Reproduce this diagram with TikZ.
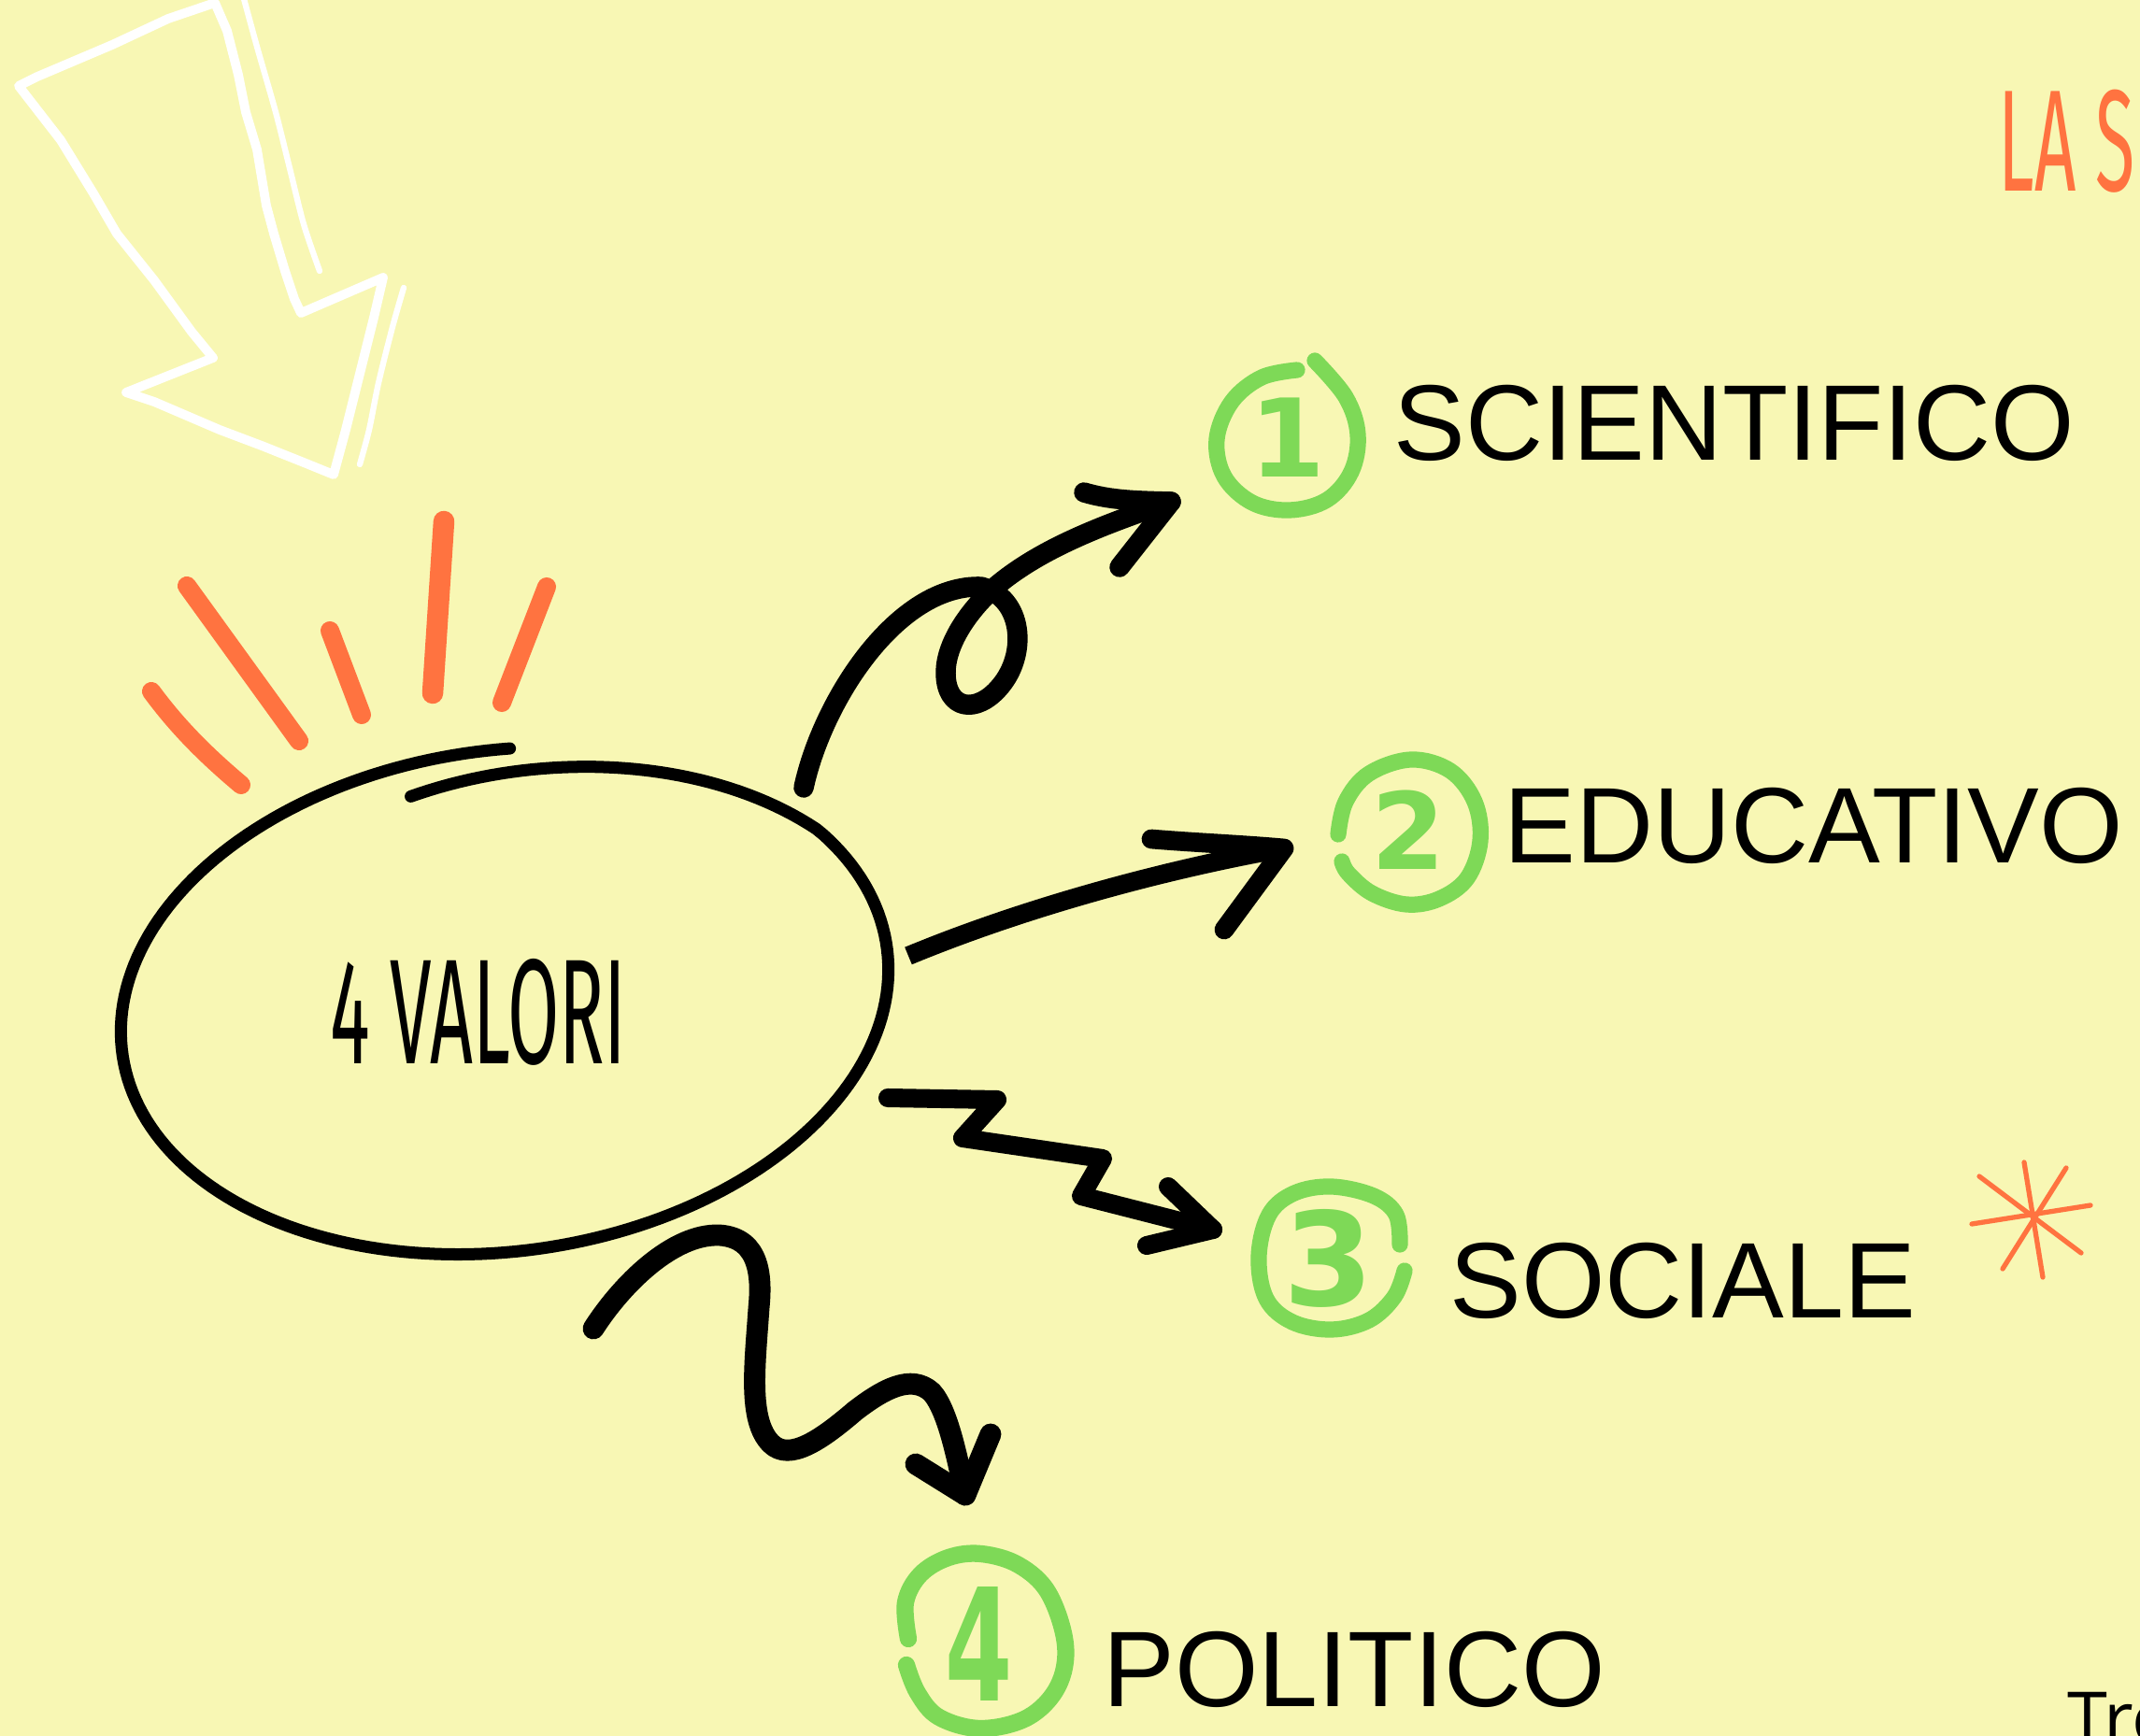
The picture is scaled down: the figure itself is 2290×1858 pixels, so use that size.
\documentclass[tikz,border=0pt]{standalone}
\usepackage{fontspec}
\setmainfont{Liberation Sans}
\newfontfamily\handfont{Fira Sans}[FakeStretch=0.5]
\newfontfamily\digfont{DejaVu Sans}
\newfontfamily\digfontn{DejaVu Sans}[FakeStretch=0.62]
\newfontfamily\smallfont{Open Sans}
\definecolor{bg}{RGB}{248,247,180}
\definecolor{org}{RGB}{255,115,64}
\definecolor{grn}{RGB}{126,217,87}
\begin{document}
\begin{tikzpicture}[x=0.01cm,y=-0.01cm,
  blk/.style={draw=black, line width=6.1pt, line cap=round, line join=round},
  ray/.style={draw=org, line width=5.7pt, line cap=round},
  ring/.style={draw=grn, line width=4.9pt, line cap=round, line join=round},
  wht/.style={draw=white, line width=2.8pt, line cap=round, line join=round},
  lbl/.style={anchor=west, inner sep=0pt, font=\fontsize{32.7}{39}\selectfont},
  dig/.style={inner sep=0pt, text=grn}]
\useasboundingbox (0,0) rectangle (2290,1858);
\fill[bg] (0,0) rectangle (2290,1858);

% white arrow
\draw[wht] (230,3) -- (243,33) -- (255,80) -- (263,120) -- (275,160) -- (285,220) -- (293,250) -- (305,290) -- (315,320) -- (322,335) -- (410,297) -- (400,340) -- (385,400) -- (370,460) -- (357,508) -- (330,497) -- (280,477) -- (235,460) -- (165,430) -- (135,420) -- (228,383) -- (205,355) -- (165,300) -- (125,250) -- (100,207) -- (65,150) -- (20,92) -- (40,82) -- (120,48) -- (180,20) -- cycle;
\draw[wht, line width=1.8pt] plot[smooth] coordinates {(260,-5) (275,50) (295,120) (310,180) (325,240) (342,290)};
\draw[wht, line width=1.8pt] plot[smooth] coordinates {(432,308) (420,350) (405,410) (395,460) (385,497)};

% orange rays
\draw[ray] (162,740) .. controls (190,778) and (220,808) .. (258,840);
\draw[ray] (200,627) -- (320,793);
\draw[ray] (353,675) -- (387,765);
\draw[ray, line width=6.4pt] (475,558) -- (463,742);
\draw[ray] (585,628) -- (537,752);

% ellipse (open, slightly spiralling stroke)
\draw[line width=3.7pt, line cap=round, line join=round] plot[domain=-101:276, samples=220, variable=\t]
  ({540 + (1-0.124*max(0,(-30-(\t))/71))*(413*cos(\t)*cos(8) + 268*sin(\t)*sin(8))},
   {1071 + (1-0.124*max(0,(-30-(\t))/71))*(-413*cos(\t)*sin(8) + 268*sin(\t)*cos(8))});
\node[inner sep=0pt, font=\handfont\fontsize{45.5}{50}\selectfont] (val) at (512,1083) {4 VALORI};

% connector end points
\coordinate (s1) at (860,843);
\coordinate (t1) at (1253,537);
\coordinate (s2) at (972,1023);
\coordinate (t2) at (1374,908);
\coordinate (s3) at (950,1175);
\coordinate (t3) at (1298,1316);
\coordinate (s4) at (635,1422);
\coordinate (t4) at (1033,1600);

% arrow 1 (loop)
\draw[blk] (s1) .. controls (880,750) and (960,625) .. (1050,628)
  .. controls (1095,640) and (1100,700) .. (1070,735)
  .. controls (1045,765) and (1012,760) .. (1012,720)
  .. controls (1012,690) and (1035,655) .. (1065,628)
  .. controls (1110,590) and (1170,565) .. (t1);
\draw[blk] (1160,527) .. controls (1190,536) and (1220,536) .. (t1) -- (1198,607);

% arrow 2
\draw[blk, line width=5.7pt, line cap=butt] (s2) .. controls (1100,970) and (1250,930) .. (t2);
\draw[blk, line width=5.9pt] (1232,898) .. controls (1280,902) and (1330,904) .. (t2) -- (1310,995);

% arrow 3 (zigzag)
\draw[blk, line width=5.7pt] (s3) -- (1067,1177) -- (1030,1218) -- (1180,1240) -- (1157,1280) -- (t3);
\draw[blk, line width=5.7pt] (1250,1270) -- (t3) -- (1227,1333);

% arrow 4 (wave)
\draw[blk, line width=6.5pt] (s4) .. controls (665,1375) and (720,1320) .. (770,1322)
  .. controls (815,1325) and (815,1370) .. (812,1400)
  .. controls (808,1460) and (800,1520) .. (825,1545)
  .. controls (845,1565) and (880,1540) .. (915,1510)
  .. controls (945,1487) and (975,1470) .. (997,1490)
  .. controls (1015,1510) and (1025,1565) .. (t4);
\draw[blk, line width=6.5pt] (980,1567) -- (t4) -- (1060,1535);

% green rings
\draw[ring] plot[smooth, tension=0.6] coordinates {(1388,396) (1350,404) (1318,430) (1302,470) (1310,510) (1340,538) (1380,546) (1420,535) (1446,505) (1453,465) (1440,425) (1407,386)};
\draw[ring] plot[smooth, tension=0.6] coordinates {(1432,893) (1440,858) (1465,828) (1510,813) (1552,825) (1578,858) (1584,900) (1570,940) (1540,962) (1505,968) (1468,956) (1443,935) (1436,922)};
\draw[ring] plot[smooth, tension=0.6] coordinates {(1498,1332) (1494,1300) (1470,1280) (1425,1270) (1385,1277) (1358,1300) (1347,1345) (1355,1390) (1383,1415) (1425,1423) (1465,1413) (1492,1388) (1503,1360)};
\draw[ring, line width=5.2pt] plot[smooth, tension=0.6] coordinates {(972,1754) (969,1715) (985,1685) (1015,1667) (1050,1663) (1090,1675) (1122,1705) (1140,1760) (1132,1805) (1100,1838) (1050,1850) (1005,1838) (982,1812) (970,1782)};

% digits
\node[dig, font=\digfont\bfseries\fontsize{33}{33}\selectfont] (d1) at (1378,468) {1};
\node[dig, font=\digfont\bfseries\fontsize{32.4}{33}\selectfont] (d2) at (1507,888) {2};
\node[dig, font=\digfont\bfseries\fontsize{39.5}{40}\selectfont] (d3) at (1422,1347) {3};
\node[dig, font=\digfontn\bfseries\fontsize{47.6}{48}\selectfont] (d4) at (1048,1759) {4};

% labels
\node[lbl] (sci) at (1491,453) {SCIENTIFICO};
\node[lbl] (edu) at (1609,884) {EDUCATIVO};
\node[lbl] (soc) at (1551,1371) {SOCIALE};
\node[lbl] (pol) at (1180,1787) {POLITICO};

% star
\draw[org, line width=1.5pt, line cap=round] (2166,1244) -- (2186,1367);
\draw[org, line width=1.5pt, line cap=round] (2118,1259) -- (2227,1341);
\draw[org, line width=1.5pt, line cap=round] (2211,1250) -- (2143,1358);
\draw[org, line width=1.5pt, line cap=round] (2110,1310) -- (2237,1290);

% texts cut off at the picture's edge, as in the reference
\node[anchor=base west, inner sep=0pt, text=org, font=\handfont\fontsize{44}{44}\selectfont] (las) at (2138,205) {LA S};
\node[anchor=base west, inner sep=0pt, font=\smallfont\fontsize{22}{22}\selectfont] (tro) at (2212,1866) {Tro};
\end{tikzpicture}
\end{document}
